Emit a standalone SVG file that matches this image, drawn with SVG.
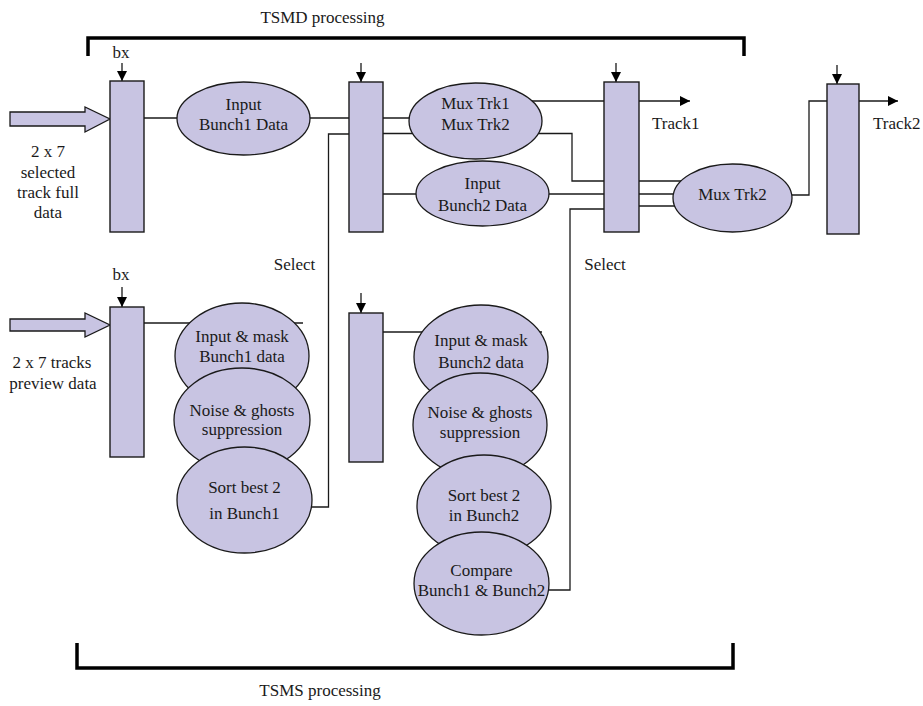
<svg xmlns="http://www.w3.org/2000/svg" width="923" height="706" viewBox="0 0 923 706">
  <style>
    text { font-family: "Liberation Serif", "Times New Roman", serif; font-size: 17px; fill: #1a1a1a; }
    .mid { text-anchor: middle; }
    .reg { fill: #c8c4e2; stroke: #1a1a1a; stroke-width: 1.4; }
    .op { fill: #c8c4e2; stroke: #1a1a1a; stroke-width: 1.3; }
    .wire { fill: none; stroke: #1a1a1a; stroke-width: 1.3; }
    .arrow { fill: none; stroke: #1a1a1a; stroke-width: 1.3; marker-end: url(#head); }
    .bracket { fill: none; stroke: #000; stroke-width: 3.5; }
    .bus { fill: #c8c4e2; stroke: #1a1a1a; stroke-width: 1.3; }
  </style>
  <defs>
    <marker id="head" markerUnits="userSpaceOnUse" markerWidth="10" markerHeight="10" refX="10" refY="5" orient="auto">
      <path d="M0,0 L10,5 L0,10 z" fill="#000"/>
    </marker>
  </defs>

  <rect width="923" height="706" fill="#fff"/>

  <!-- processing brackets -->
  <g id="tsmd-bracket">
    <path class="bracket" d="M88 56 V38 H744 V56"/>
    <text class="mid" x="322.5" y="23">TSMD processing</text>
  </g>
  <g id="tsms-bracket">
    <path class="bracket" d="M77 643 V668 H733 V643"/>
    <text class="mid" x="320" y="696">TSMS processing</text>
  </g>

  <!-- connectors -->
  <g id="connectors">
    <!-- bunch crossing clocks into the registers -->
    <path class="arrow" d="M122 63 V81"/>
    <path class="arrow" d="M361 63 V82"/>
    <path class="arrow" d="M616 63 V82"/>
    <path class="arrow" d="M837 65 V84"/>
    <path class="arrow" d="M122 287 V307"/>
    <path class="arrow" d="M361 293 V313"/>

    <!-- full data path -->
    <path class="wire" d="M144 118 H190"/>
    <path class="wire" d="M300 118 H420"/>
    <path class="wire" d="M383 133.5 H430"/>
    <path class="wire" d="M383 194 H430"/>
    <path class="arrow" d="M520 101 H690"/>
    <path class="wire" d="M520 133.5 H572 V181 H700"/>
    <path class="wire" d="M530 194 H700"/>
    <path class="wire" d="M604 209 H570 V590 H545"/>
    <path class="wire" d="M639 206 H700"/>
    <path class="wire" d="M780 195 H809 V101 H827"/>
    <path class="arrow" d="M859 101 H898"/>

    <!-- preview data path -->
    <path class="wire" d="M144 323 H303"/>
    <path class="wire" d="M383 332 H542"/>
    <path class="wire" d="M300 507 H328.5 V134 H349"/>
  </g>

  <!-- inputs -->
  <g id="input-full">
    <polygon class="bus" points="10,112 85,112 85,107 110,119 85,132 85,126 10,126"/>
    <text class="mid" x="48" y="157">2 x 7</text>
    <text class="mid" x="48" y="178">selected</text>
    <text class="mid" x="48" y="198">track full</text>
    <text class="mid" x="48" y="218">data</text>
  </g>
  <g id="input-preview">
    <polygon class="bus" points="10,319 85,319 85,313 110,325 85,337 85,331 10,331"/>
    <text class="mid" x="52" y="368">2 x 7 tracks</text>
    <text class="mid" x="53" y="389">preview data</text>
  </g>

  <!-- labels -->
  <g id="labels">
    <text class="mid" x="121" y="58">bx</text>
    <text class="mid" x="121" y="280">bx</text>
    <text class="mid" x="294.5" y="270">Select</text>
    <text class="mid" x="605" y="270">Select</text>
    <text x="652" y="129">Track1</text>
    <text x="873" y="129">Track2</text>
  </g>

  <!-- registers -->
  <g id="reg1"><rect class="reg" x="110" y="81" width="34" height="151"/></g>
  <g id="reg2"><rect class="reg" x="349" y="82" width="34" height="150"/></g>
  <g id="reg3"><rect class="reg" x="604" y="82" width="35" height="150"/></g>
  <g id="reg4"><rect class="reg" x="827" y="84" width="32" height="150"/></g>
  <g id="reg5"><rect class="reg" x="110" y="307" width="34" height="150"/></g>
  <g id="reg6"><rect class="reg" x="349" y="313" width="34" height="149"/></g>

  <!-- TSMD operations -->
  <g id="input-bunch1">
    <ellipse class="op" cx="243.5" cy="118.5" rx="66.5" ry="36.5"/>
    <text class="mid" x="243.5" y="110">Input</text>
    <text class="mid" x="243.5" y="130">Bunch1 Data</text>
  </g>
  <g id="mux-trk12">
    <ellipse class="op" cx="475.5" cy="121" rx="66.5" ry="38"/>
    <text class="mid" x="475.5" y="109">Mux Trk1</text>
    <text class="mid" x="475.5" y="130">Mux Trk2</text>
  </g>
  <g id="input-bunch2">
    <ellipse class="op" cx="482.5" cy="193.5" rx="66.5" ry="32.5"/>
    <text class="mid" x="482.5" y="189">Input</text>
    <text class="mid" x="482.5" y="211">Bunch2 Data</text>
  </g>
  <g id="mux-trk2">
    <ellipse class="op" cx="732.5" cy="198" rx="59.5" ry="34"/>
    <text class="mid" x="732.5" y="200">Mux Trk2</text>
  </g>

  <!-- TSMS operations, bunch 1 -->
  <g id="mask-bunch1">
    <ellipse class="op" cx="242" cy="356" rx="67" ry="53"/>
    <text class="mid" x="242" y="342">Input &amp; mask</text>
    <text class="mid" x="242" y="362">Bunch1 data</text>
  </g>
  <g id="noise-bunch1">
    <ellipse class="op" cx="242" cy="420" rx="68" ry="52"/>
    <text class="mid" x="242" y="415.5">Noise &amp; ghosts</text>
    <text class="mid" x="242" y="435">suppression</text>
  </g>
  <g id="sort-bunch1">
    <ellipse class="op" cx="244.5" cy="500" rx="67.5" ry="53"/>
    <text class="mid" x="244.5" y="493">Sort best 2</text>
    <text class="mid" x="244.5" y="519">in Bunch1</text>
  </g>

  <!-- TSMS operations, bunch 2 -->
  <g id="mask-bunch2">
    <ellipse class="op" cx="481" cy="357" rx="67" ry="52"/>
    <text class="mid" x="481" y="346">Input &amp; mask</text>
    <text class="mid" x="481" y="367.5">Bunch2 data</text>
  </g>
  <g id="noise-bunch2">
    <ellipse class="op" cx="480" cy="425" rx="67" ry="52"/>
    <text class="mid" x="480" y="417.5">Noise &amp; ghosts</text>
    <text class="mid" x="480" y="437.5">suppression</text>
  </g>
  <g id="sort-bunch2">
    <ellipse class="op" cx="484" cy="506" rx="67" ry="51"/>
    <text class="mid" x="484" y="500.5">Sort best 2</text>
    <text class="mid" x="484" y="521">in Bunch2</text>
  </g>
  <g id="compare">
    <ellipse class="op" cx="481.5" cy="583.5" rx="67.5" ry="51.5"/>
    <text class="mid" x="481.5" y="575.5">Compare</text>
    <text class="mid" x="481.5" y="596">Bunch1 &amp; Bunch2</text>
  </g>
</svg>
